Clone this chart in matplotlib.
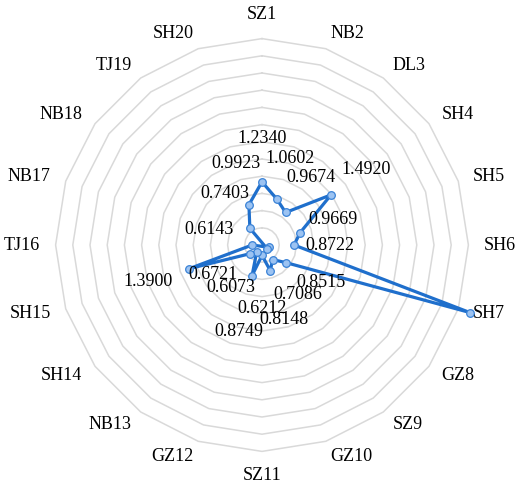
import numpy as np
import matplotlib
matplotlib.use("Agg")
import matplotlib.pyplot as plt

plt.rcParams['font.family'] = ['Liberation Serif', 'DejaVu Serif']
plt.rcParams['font.size'] = 13

# ---------------- data ----------------
categories = ['SZ1', 'NB2', 'DL3', 'SH4', 'SH5', 'SH6', 'SH7', 'GZ8', 'SZ9', 'GZ10',
              'SZ11', 'GZ12', 'NB13', 'SH14', 'SH15', 'TJ16', 'NB17', 'NB18', 'TJ19', 'SH20']
values = [1.2340, 1.0602, 0.9674, 1.4920, 0.9669, 0.8722, 3.04, 0.8515, 0.7086, 0.8148,
          0.6212, 0.8749, 0.6073, 0.6721, 1.3900, 0.6143, 0.41, 0.425, 0.7403, 0.9923]
# points whose value label is shown
labelled = [True, True, True, True, True, True, False, True, True, True,
            True, True, True, True, True, True, False, False, True, True]

# radial axis (Excel style: min 0.5, major unit 0.2)
r_min = 0.5
r_max = 2.9
r_step = 0.2

# small nudges of some value labels (pixels, x right / y up)
label_nudge = {4: (-8, 0), 5: (-7, 0), 7: (0, 6), 9: (0, -8), 10: (0, -10),
               11: (0, -15), 13: (-2, 4), 15: (0, 16)}

# ---------------- figure ----------------
W, H = 520, 493
px_per_unit = 86.0
cx, cy = 262, 245           # centre in pixels (from top-left)

fig = plt.figure(figsize=(W / 100, H / 100), dpi=100)
ax = fig.add_axes([0, 0, 1, 1])
ax.set_xlim(-cx / px_per_unit, (W - cx) / px_per_unit)
ax.set_ylim(-(H - cy) / px_per_unit, cy / px_per_unit)
ax.axis('off')

n = len(categories)
theta = np.arange(n) * 2 * np.pi / n
sx, cyv = np.sin(theta), np.cos(theta)

# polygon gridlines
for g in np.arange(r_min + r_step, r_max + 1e-9, r_step):
    rr = g - r_min
    xs = np.append(rr * sx, rr * sx[0])
    ys = np.append(rr * cyv, rr * cyv[0])
    ax.plot(xs, ys, color='#D9D9D9', lw=1.1, zorder=1)

# category labels
R_out = r_max - r_min
gap = 222 / px_per_unit
for i, cat in enumerate(categories):
    s, c = sx[i], cyv[i]
    if abs(s) < 0.01:
        ha = 'center'
        va = 'bottom' if c > 0 else 'top'
    else:
        ha = 'left' if s > 0 else 'right'
        va = 'center'
    ax.text(gap * s, gap * c, cat, ha=ha, va=va, fontsize=13, color='black', zorder=5)

# data series
v = np.array(values)
r = v - r_min
xs = np.append(r * sx, r[0] * sx[0])
ys = np.append(r * cyv, r[0] * cyv[0])
ax.plot(xs, ys, color='#1F6FCC', lw=2.3, zorder=3, solid_joinstyle='round', clip_on=False)
ax.plot(r * sx, r * cyv, 'o', ms=5.5, mfc='#9CC3F2', mec='#3A82D6', mew=0.9,
        zorder=4, clip_on=False)

# value labels
for i, val in enumerate(values):
    if not labelled[i]:
        continue
    dx, dy = label_nudge.get(i, (0, 0))
    ax.annotate(f'{val:.4f}', xy=(val * sx[i], val * cyv[i]), xytext=(dx, dy),
                textcoords='offset pixels', ha='center', va='center',
                fontsize=13, color='black', zorder=6)

plt.savefig('out.png', dpi=100)
